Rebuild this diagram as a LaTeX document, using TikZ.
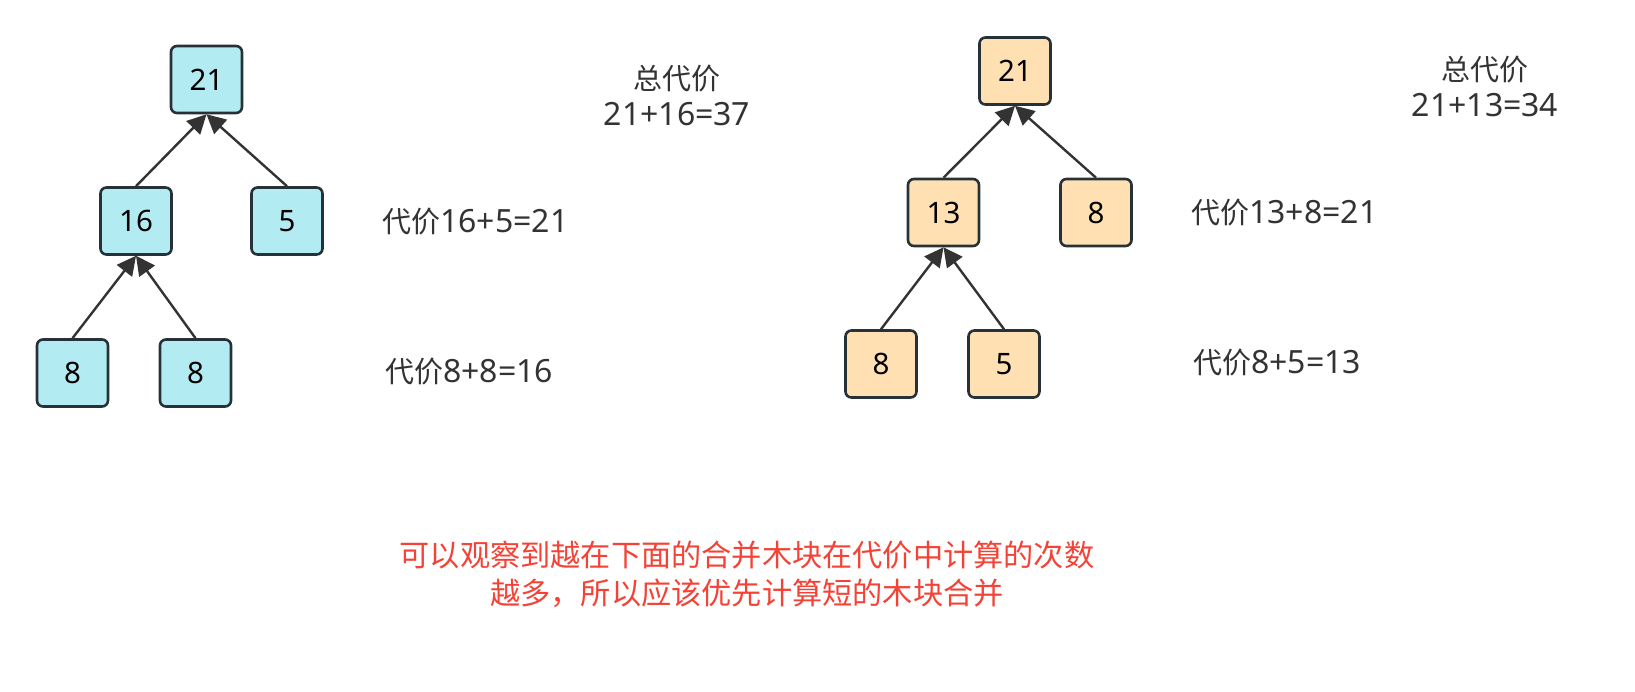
\documentclass[tikz,border=0pt]{standalone}
\usepackage{fontspec}
\setmainfont{Noto Sans}
\newfontfamily\cjk{Noto Sans CJK SC}
\usetikzlibrary{arrows.meta}
\definecolor{bluefill}{HTML}{B2EBF2}
\definecolor{orangefill}{HTML}{FFE0B2}
\definecolor{boxline}{HTML}{263238}
\definecolor{txt}{HTML}{333333}
\definecolor{redtxt}{HTML}{F44336}
\newcommand\cjw[1]{{\cjk\fontsize{29}{36}\selectfont #1}}
\tikzset{
  tbox/.style={draw=boxline, line width=2.6pt, rounded corners=6pt, minimum width=71pt, minimum height=67pt, inner sep=0pt, font=\fontsize{29.5}{34}\selectfont, text=black},
  bluebox/.style={tbox, fill=bluefill},
  orangebox/.style={tbox, fill=orangefill},
  edge/.style={draw=txt, line width=2.4pt, -{Triangle[length=19pt,width=19pt]}},
  lbl/.style={text=txt, font=\fontsize{32}{36}\selectfont, inner sep=0pt, align=center},
  note/.style={text=redtxt, font=\cjk\fontsize{30.2}{38}\selectfont, inner sep=0pt, align=center}
}
\begin{document}
\begin{tikzpicture}[x=1pt,y=-1pt]
\useasboundingbox (0,0) rectangle (1635,691);
% left tree
\node[bluebox] (a21) at (206.5,79.5) {21};
\node[bluebox] (a16) at (136,221) {16};
\node[bluebox] (a5) at (287,221) {5};
\node[bluebox] (a8a) at (72.5,373) {8};
\node[bluebox] (a8b) at (195.5,373) {8};
\draw[edge] (a16.north) -- (a21.south);
\draw[edge] (a5.north) -- (a21.south);
\draw[edge] (a8a.north) -- (a16.south);
\draw[edge] (a8b.north) -- (a16.south);
% right tree
\node[orangebox] (b21) at (1015,71) {21};
\node[orangebox] (b13) at (943.5,212.5) {13};
\node[orangebox] (b8) at (1096,212.5) {8};
\node[orangebox] (b8a) at (881,364) {8};
\node[orangebox] (b5) at (1004,364) {5};
\draw[edge] (b13.north) -- (b21.south);
\draw[edge] (b8.north) -- (b21.south);
\draw[edge] (b8a.north) -- (b13.south);
\draw[edge] (b5.north) -- (b13.south);
% labels
\node[lbl] (ltot) at (677,95) {\cjw{总代价}\\21+16=37};
\node[lbl, anchor=west] (l2) at (382,222) {\cjw{代价}16+5=21};
\node[lbl, anchor=west] (l3) at (385,372) {\cjw{代价}8+8=16};
\node[lbl] (rtot) at (1485,86.5) {\cjw{总代价}\\21+13=34};
\node[lbl, anchor=west] (r2) at (1191,213) {\cjw{代价}13+8=21};
\node[lbl, anchor=west] (r3) at (1193,363) {\cjw{代价}8+5=13};
\node[note] (msg) at (747,574) {可以观察到越在下面的合并木块在代价中计算的次数\\越多，所以应该优先计算短的木块合并};
\end{tikzpicture}
\end{document}
